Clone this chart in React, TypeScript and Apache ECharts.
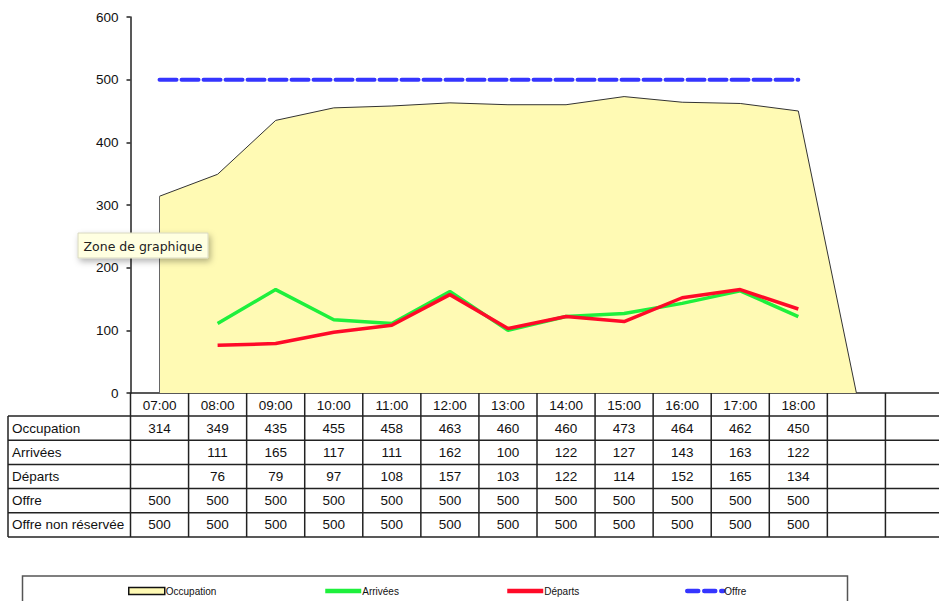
import React, { useEffect, useRef } from 'react';
import * as echarts from 'echarts';

const categories = ['07:00', '08:00', '09:00', '10:00', '11:00', '12:00', '13:00', '14:00', '15:00', '16:00', '17:00', '18:00', '', ''];
const occupation = [314, 349, 435, 455, 458, 463, 460, 460, 473, 464, 462, 450];
const occupationDrop = [0];
const arrivees = [null, 111, 165, 117, 111, 162, 100, 122, 127, 143, 163, 122];
const departs = [null, 76, 79, 97, 108, 157, 103, 122, 114, 152, 165, 134];
const offre = [500, 500, 500, 500, 500, 500, 500, 500, 500, 500, 500, 500];
const offreNonReservee = [500, 500, 500, 500, 500, 500, 500, 500, 500, 500, 500, 500];
const rowLabels = ['Occupation', 'Arrivées', 'Départs', 'Offre', 'Offre non réservée'];
const yMin = 0;
const yMax = 600;
const yInterval = 100;

const FONT = '"Liberation Sans", Arial, Helvetica, sans-serif';
const YELLOW = '#FFFAB4';
const GREEN = '#1EF03C';
const RED = '#FF0A28';
const BLUE = '#3535FF';

export default function App() {
  const ref = useRef<HTMLDivElement>(null);

  useEffect(() => {
    if (!ref.current) return;
    const chart = echarts.init(ref.current, null, { renderer: 'svg' });
    const legendBase = {
      top: 586,
      padding: 0,
      itemWidth: 36,
      itemHeight: 7,
      itemGap: 2,
      textStyle: { fontFamily: FONT, fontSize: 10, color: '#111', padding: [0, 0, 0, -4] },
    };
    const hidden = { color: 'rgba(0,0,0,0)', borderWidth: 0, opacity: 0 };
    const option: any = {
      animation: false,
      backgroundColor: '#fff',
      grid: { left: 130.5, top: 17, width: 813, bottom: 208, containLabel: false, outerBoundsMode: 'none' },
      xAxis: {
        type: 'category',
        data: categories,
        boundaryGap: true,
        axisLine: { lineStyle: { color: '#222', width: 1.5 } },
        axisTick: { show: false },
        axisLabel: { interval: 0, margin: 5, fontFamily: FONT, fontSize: 13.5, color: '#111' },
        splitLine: { show: false },
      },
      yAxis: {
        type: 'value',
        min: yMin,
        max: yMax,
        interval: yInterval,
        axisLine: { show: true, lineStyle: { color: '#222', width: 1.5 } },
        axisTick: { show: true, length: 4, lineStyle: { color: '#222', width: 1.5 } },
        axisLabel: { margin: 12, fontFamily: FONT, fontSize: 13.5, color: '#111' },
        splitLine: { show: false },
      },
      legend: [
        { ...legendBase, left: 128, data: [{ name: 'Occupation', icon: 'rect', itemStyle: { color: YELLOW, borderColor: '#111', borderWidth: 1.5 } }] },
        { ...legendBase, left: 323, data: [{ name: 'Arrivées', itemStyle: hidden, lineStyle: { width: 4.5, color: GREEN } }] },
        { ...legendBase, left: 505, data: [{ name: 'Départs', itemStyle: hidden, lineStyle: { width: 4.5, color: RED } }] },
        { ...legendBase, left: 685, data: [{ name: 'Offre', itemStyle: hidden, lineStyle: { width: 4.5, color: BLUE, type: [11, 6], cap: 'round' } }] },
      ],
      series: [
        {
          name: 'Occupation',
          type: 'line',
          data: [...occupation, ...occupationDrop],
          symbol: 'none',
          lineStyle: { color: '#333', width: 1 },
          itemStyle: { color: YELLOW, borderColor: '#111' },
          areaStyle: { color: YELLOW, opacity: 1 },
          z: 1,
          markLine: {
            silent: true,
            symbol: 'none',
            label: { show: false },
            lineStyle: { color: '#666', width: 1, type: 'solid' },
            data: [[{ coord: [0, 0] }, { coord: [0, occupation[0]] }]],
          },
        },
        {
          name: 'Arrivées',
          type: 'line',
          data: arrivees,
          symbol: 'none',
          lineStyle: { color: GREEN, width: 3.5 },
          itemStyle: { color: GREEN },
          z: 2,
        },
        {
          name: 'Départs',
          type: 'line',
          data: departs,
          symbol: 'none',
          lineStyle: { color: RED, width: 3.5 },
          itemStyle: { color: RED },
          z: 3,
        },
        {
          name: 'Offre',
          type: 'line',
          data: offre,
          symbol: 'none',
          lineStyle: { color: BLUE, width: 4, type: [17, 5], cap: 'round' },
          itemStyle: { color: BLUE },
          z: 4,
        },
      ],
    };
    chart.setOption(option);

    const xa = chart.convertToPixel({ xAxisIndex: 0 }, 0) as number;
    const xb = chart.convertToPixel({ xAxisIndex: 0 }, 1) as number;
    const bw = xb - xa;
    const left = xa - bw / 2;
    const yBase = chart.convertToPixel({ yAxisIndex: 0 }, 0) as number;
    const headerH = 23;
    const rowH = 24.2;
    const tableLeft = 8;
    const nCols = categories.length;
    const rightEdge = left + nCols * bw;
    const rows = [occupation, arrivees, departs, offre, offreNonReservee];
    const lastY = yBase + headerH + rows.length * rowH;
    const lineStyle = { stroke: '#222', lineWidth: 1.5 };

    const g: any[] = [];
    for (let i = 0; i <= rows.length; i++) {
      const y = yBase + headerH + i * rowH;
      g.push({ type: 'line', shape: { x1: tableLeft, y1: y, x2: rightEdge, y2: y }, style: lineStyle, silent: true });
    }
    g.push({ type: 'line', shape: { x1: tableLeft, y1: yBase + headerH, x2: tableLeft, y2: lastY }, style: lineStyle, silent: true });
    for (let k = 0; k <= nCols; k++) {
      const x = left + k * bw;
      g.push({ type: 'line', shape: { x1: x, y1: yBase, x2: x, y2: lastY }, style: lineStyle, silent: true });
    }
    rows.forEach((vals, r) => {
      const cy = yBase + headerH + (r + 0.5) * rowH;
      g.push({
        type: 'text',
        x: tableLeft + 4,
        y: cy,
        silent: true,
        style: { text: rowLabels[r], font: `13.5px ${FONT}`, fill: '#111', textAlign: 'left', textVerticalAlign: 'middle' },
      });
      vals.forEach((v, j) => {
        if (v === null || v === undefined) return;
        g.push({
          type: 'text',
          x: left + (j + 0.5) * bw,
          y: cy,
          silent: true,
          style: { text: String(v), font: `13.5px ${FONT}`, fill: '#111', textAlign: 'center', textVerticalAlign: 'middle' },
        });
      });
    });
    // legend frame
    g.push({
      type: 'rect',
      shape: { x: 22.5, y: 576, width: 825, height: 40 },
      style: { fill: 'none', stroke: '#555', lineWidth: 1.5 },
      silent: true,
    });
    // Excel hover tooltip
    g.push({
      type: 'rect',
      z: 100,
      silent: true,
      shape: { x: 78, y: 233, width: 130, height: 25 },
      style: { fill: '#FFFFE1', stroke: '#D8D8C0', lineWidth: 1, shadowBlur: 6, shadowColor: 'rgba(0,0,0,0.3)', shadowOffsetX: 2, shadowOffsetY: 3 },
    });
    g.push({
      type: 'text',
      z: 101,
      silent: true,
      x: 143,
      y: 246,
      style: { text: 'Zone de graphique', font: '12.5px "DejaVu Sans", sans-serif', fill: '#222', textAlign: 'center', textVerticalAlign: 'middle' },
    });
    chart.setOption({ graphic: { elements: g } });

    return () => chart.dispose();
  }, []);

  return <div ref={ref} style={{ position: 'fixed', left: 0, top: 0, width: 939, height: 601 }} />;
}
